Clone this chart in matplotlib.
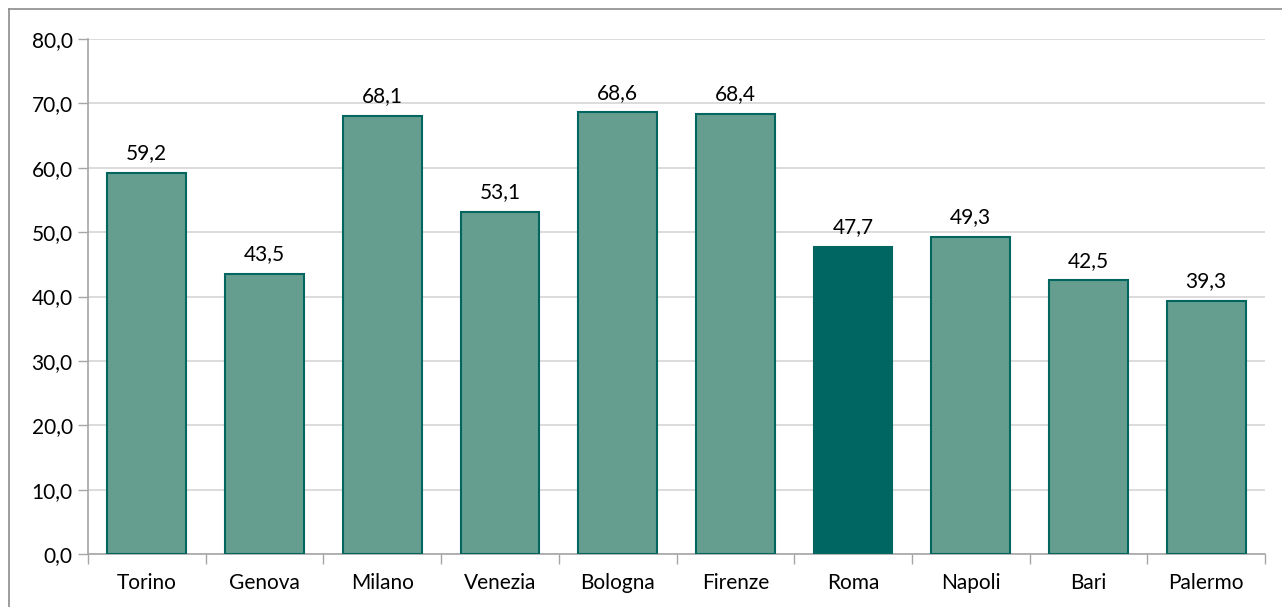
import matplotlib
matplotlib.use("Agg")
import matplotlib.pyplot as plt
from matplotlib.lines import Line2D
import numpy as np

cities = ["Torino", "Genova", "Milano", "Venezia", "Bologna", "Firenze", "Roma", "Napoli", "Bari", "Palermo"]
values = [59.2, 43.5, 68.1, 53.1, 68.6, 68.4, 47.7, 49.3, 42.5, 39.3]
highlight = "Roma"
yticks = [0, 10, 20, 30, 40, 50, 60, 70, 80]

plt.rcParams['font.family'] = ['Lato', 'DejaVu Sans']

W, H = 1282, 607
fig = plt.figure(figsize=(W / 100, H / 100), dpi=100)
ax = fig.add_axes([88 / W, 1 - 554 / H, (1265 - 88) / W, (554 - 39) / H])

light = "#659E8F"
dark = "#006661"
edge = "#00665F"
fs = 15

x = np.arange(len(cities))
colors = [dark if c == highlight else light for c in cities]
bars = ax.bar(x, values, width=0.67, color=colors, edgecolor=edge, linewidth=1.5, zorder=3)

for xi, v in zip(x, values):
    ax.annotate(f"{v:.1f}".replace(".", ","), (xi, v), xytext=(0, 7), textcoords="offset points",
                ha="center", va="bottom", fontsize=fs, color="#000000")

ax.set_xlim(-0.5, len(cities) - 0.5)
ax.set_ylim(0, 80)
ax.set_yticks(yticks)
ax.set_yticklabels([f"{t:.1f}".replace(".", ",") for t in yticks], fontsize=fs)
ax.yaxis.grid(True, color="#d9d9d9", linewidth=1.3, zorder=0)
ax.set_axisbelow(True)

ax.set_xticks(x)
ax.set_xticklabels(cities, fontsize=fs)
ax.tick_params(axis="x", which="major", length=0, pad=14)
ax.set_xticks(np.arange(-0.5, len(cities), 1.0), minor=True)
ax.tick_params(axis="x", which="minor", length=7, width=1, color="#a6a6a6")
ax.tick_params(axis="y", length=7, width=1, color="#a6a6a6", pad=4)

for s in ["top", "right"]:
    ax.spines[s].set_visible(False)
for s in ["left", "bottom"]:
    ax.spines[s].set_color("#a6a6a6")
    ax.spines[s].set_linewidth(1.2)

# outer chart border
fig.add_artist(Line2D([9 / W, 1.0], [1 - 9 / H, 1 - 9 / H], color="#8c8c8c", linewidth=1.2))
fig.add_artist(Line2D([9 / W, 9 / W], [0, 1 - 9 / H], color="#8c8c8c", linewidth=1.2))

fig.savefig("out.png", dpi=100, facecolor="white")
